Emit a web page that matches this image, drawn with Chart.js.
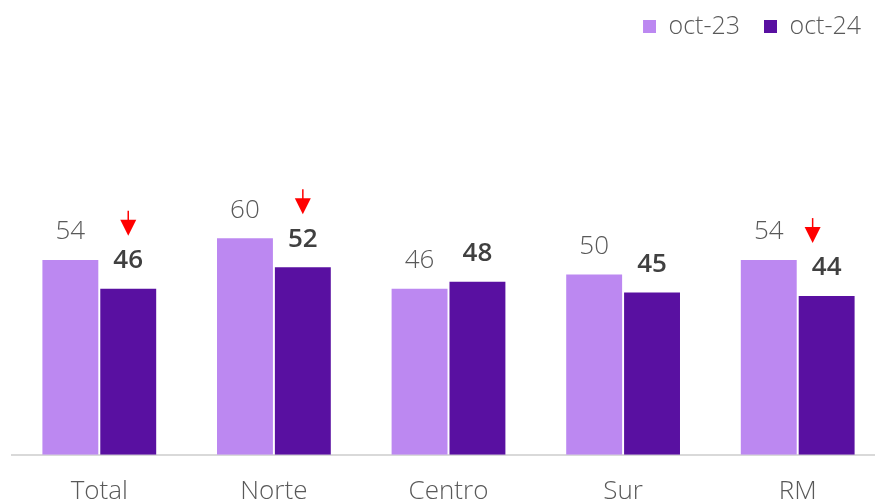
<!DOCTYPE html>
<html>
<head>
<meta charset="utf-8">
<script src="https://cdn.jsdelivr.net/npm/chart.js@4.4.1/dist/chart.umd.min.js"></script>
<style>
  html, body { margin: 0; padding: 0; background: #fff; overflow: hidden; }
  .wrap { width: 875px; height: 502px; overflow: hidden; position: relative; }
</style>
</head>
<body>
<div class="wrap">
  <canvas id="chart" width="885" height="528"></canvas>
</div>
<script>
const categories = ['Total', 'Norte', 'Centro', 'Sur', 'RM'];
const oct23 = [54, 60, 46, 50, 54];
const oct24 = [46, 52, 48, 45, 44];
const downArrow = [true, true, false, false, true];

const FONT = "'Open Sans', 'Noto Sans', sans-serif";

// value labels + red arrows drawn above the bars
const labelPlugin = {
    id: 'valueLabels',
    afterDatasetsDraw(chart) {
        const ctx = chart.ctx;
        ctx.save();
        ctx.textAlign = 'center';
        ctx.textBaseline = 'middle';
        chart.data.datasets.forEach((ds, i) => {
            const meta = chart.getDatasetMeta(i);
            meta.data.forEach((bar, j) => {
                const y = bar.y - 28;
                if (i === 0) {
                    ctx.font = `300 26px ${FONT}`;
                    ctx.fillStyle = '#595959';
                } else {
                    ctx.font = `600 26px ${FONT}`;
                    ctx.fillStyle = '#404040';
                }
                ctx.fillText(ds.data[j], bar.x, y);

                if (i === 1 && downArrow[j]) {
                    const ax = bar.x + (j === 4 ? -14 : 0);
                    const top = bar.y - 78;
                    ctx.strokeStyle = '#ff0000';
                    ctx.fillStyle = '#ff0000';
                    ctx.lineWidth = 1.5;
                    ctx.beginPath();
                    ctx.moveTo(ax, top);
                    ctx.lineTo(ax, top + 10);
                    ctx.stroke();
                    ctx.beginPath();
                    ctx.moveTo(ax - 8, top + 9);
                    ctx.lineTo(ax + 8, top + 9);
                    ctx.lineTo(ax, top + 25);
                    ctx.closePath();
                    ctx.fill();
                }
            });
        });
        ctx.restore();
    }
};

new Chart(document.getElementById('chart'), {
    type: 'bar',
    data: {
        labels: categories,
        datasets: [
            { label: 'oct-23', data: oct23, backgroundColor: '#bc88f1' },
            { label: 'oct-24', data: oct24, backgroundColor: '#5910a1' }
        ]
    },
    options: {
        responsive: false,
        animation: false,
        categoryPercentage: 0.663,
        barPercentage: 0.966,
        layout: { padding: { left: 12, right: 0, top: -10, bottom: 0 } },
        plugins: {
            legend: {
                position: 'top',
                align: 'end',
                labels: {
                    boxWidth: 13,
                    boxHeight: 13,
                    padding: 24,
                    color: '#595959',
                    font: { family: FONT, size: 25, weight: '300' }
                }
            },
            tooltip: { enabled: false }
        },
        scales: {
            x: {
                grid: { display: false, drawTicks: false },
                border: { display: true, color: '#d9d9d9', width: 2 },
                ticks: { color: '#595959', padding: 21, font: { family: FONT, size: 26, weight: '300' } }
            },
            y: {
                display: false,
                min: 0,
                max: 112.5
            }
        }
    },
    plugins: [labelPlugin]
});
</script>
</body>
</html>
